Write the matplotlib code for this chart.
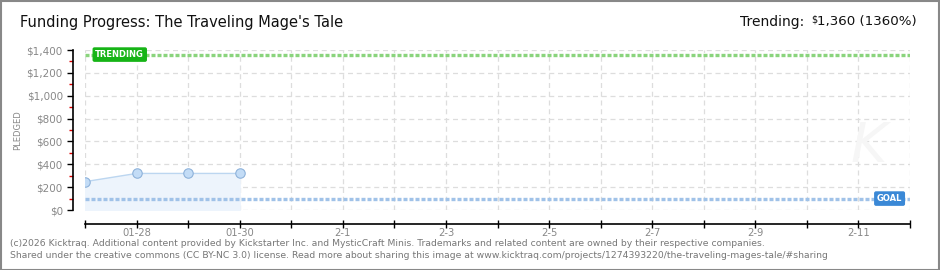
import matplotlib
matplotlib.use("Agg")
import matplotlib.pyplot as plt
import matplotlib.dates as mdates
import matplotlib.patches as mpatches
import pandas as pd

# ---- data ----
dates = ["2026-01-27", "2026-01-28", "2026-01-29", "2026-01-30"]
pledged = [248, 320, 320, 320]
goal = 100
trending = 1360
axis_start = "2026-01-27"
axis_end = "2026-02-12"
tick_dates = ["2026-01-28", "2026-01-30", "2026-02-01", "2026-02-03",
              "2026-02-05", "2026-02-07", "2026-02-09", "2026-02-11"]
tick_labels = ["01-28", "01-30", "2-1", "2-3", "2-5", "2-7", "2-9", "2-11"]
y_ticks = [0, 200, 400, 600, 800, 1000, 1200, 1400]
y_labels = [r"\$0", r"\$200", r"\$400", r"\$600", r"\$800", r"\$1,000", r"\$1,200", r"\$1,400"]
title = "Funding Progress: The Traveling Mage's Tale"
trend_label = "Trending:"
trend_value = "1,360 (1360%)"
footer1 = ("(c)2026 Kicktraq. Additional content provided by Kickstarter Inc. and MysticCraft Minis. "
           "Trademarks and related content are owned by their respective companies.")
footer2 = ("Shared under the creative commons (CC BY-NC 3.0) license. Read more about sharing this image at "
           "www.kicktraq.com/projects/1274393220/the-traveling-mages-tale/#sharing")

plt.rcParams['font.family'] = ['DejaVu Sans']

W, H = 940, 270
fig = plt.figure(figsize=(W / 100, H / 100), dpi=100)
fig.patch.set_facecolor("white")

left, right, top, bottom = 85, 910, 50, 210
ax = fig.add_axes([left / W, 1 - bottom / H, (right - left) / W, (bottom - top) / H])
ax.set_facecolor("white")

x = pd.to_datetime(dates)
xs = mdates.date2num(x)
x0 = mdates.date2num(pd.Timestamp(axis_start))
x1 = mdates.date2num(pd.Timestamp(axis_end))
ax.set_xlim(x0, x1)
ax.set_ylim(0, 1400)

# grid
for d in range(int(round(x1 - x0)) + 1):
    ax.axvline(x0 + d, color="#dddddd", lw=0.9, ls=(0, (4, 3)), zorder=0)
for yv in y_ticks:
    ax.axhline(yv, color="#dddddd", lw=0.9, ls=(0, (4, 3)), zorder=0)

# watermark
ax.text(x1 - 0.8, 560, "K", fontsize=40, style="italic", color="#f6f6f6",
        ha="center", va="center", zorder=0.5)

# fill and line
ax.fill_between(xs, pledged, 0, color="#edf4fc", zorder=1)
ax.plot(xs, pledged, color="#bcd6f0", lw=1.0, zorder=2)
ax.plot(xs, pledged, ls="none", marker="o", ms=6.8, mfc="#c3dcf6", mec="#8eb2da", mew=0.8, zorder=3)

# trending and goal lines
ax.axhline(trending, color="#8ad47d", lw=2.4, ls=(0, (1.2, 0.6)), zorder=2)
ax.axhline(goal, color="#a0c2e8", lw=2.4, ls=(0, (1.2, 0.6)), zorder=2)

ax.text(x0 + 0.2, trending, "TRENDING", color="white", fontsize=6, fontweight="bold",
        ha="left", va="center", zorder=5,
        bbox=dict(boxstyle="round,pad=0.25,rounding_size=0.15", fc="#16b416", ec="#16b416"))
ax.text(x1 - 0.15, goal, "GOAL", color="white", fontsize=6, fontweight="bold",
        ha="right", va="center", zorder=5,
        bbox=dict(boxstyle="round,pad=0.25,rounding_size=0.15", fc="#3a88d6", ec="#3a88d6"))

# spines
for s in ["top", "right"]:
    ax.spines[s].set_visible(False)
ax.spines["left"].set_position(("outward", 9))
ax.spines["bottom"].set_position(("outward", 10))
for s in ["left", "bottom"]:
    ax.spines[s].set_color("black")
    ax.spines[s].set_linewidth(1.2)

ax.set_yticks(y_ticks)
ax.set_yticklabels(y_labels)
ax.set_yticks([100, 300, 500, 700, 900, 1100, 1300], minor=True)
ax.tick_params(axis="y", which="major", length=4, width=1, color="black",
               labelsize=7.5, labelcolor="#888888", pad=3)
ax.tick_params(axis="y", which="minor", length=3, width=1, color="#dd0000")

ax.set_xticks([x0 + d for d in range(int(round(x1 - x0)) + 1)], minor=True)
ax.set_xticks(mdates.date2num(pd.to_datetime(tick_dates)))
ax.set_xticklabels(tick_labels)
ax.tick_params(axis="x", which="both", direction="inout", length=6, width=1, color="black",
               labelsize=7.2, labelcolor="#888888", pad=0)

ax.set_ylabel("PLEDGED", fontsize=6, color="#888888")
ax.yaxis.set_label_coords((22 - left) / (right - left), 0.5)

# texts
fig.text(20 / W, 1 - 22 / H, title, fontsize=10.5, color="#111111", ha="left", va="center")
tv = fig.text(917 / W, 1 - 22 / H, trend_value, fontsize=9.6, color="#111111", ha="right", va="center")
fig.canvas.draw()
bb = tv.get_window_extent()
sd = fig.text((bb.x0 - 0.5) / W, 1 - 19 / H, r"\$", fontsize=7, color="#111111", ha="right", va="center")
fig.canvas.draw()
bb2 = sd.get_window_extent()
fig.text((bb2.x0 - 7) / W, 1 - 22 / H, trend_label, fontsize=10, color="#111111", ha="right", va="center")

fig.text(10 / W, 1 - 243 / H, footer1, fontsize=6.7, color="#777777", ha="left", va="center")
fig.text(10 / W, 1 - 256 / H, footer2, fontsize=6.7, color="#777777", ha="left", va="center")

# border
fig.add_artist(mpatches.Rectangle((0.5 / W, 0.5 / H), (W - 1.5) / W, (H - 1.5) / H,
                                  transform=fig.transFigure, fill=False, ec="#888888", lw=1.5))

fig.savefig("out.png", dpi=100)
